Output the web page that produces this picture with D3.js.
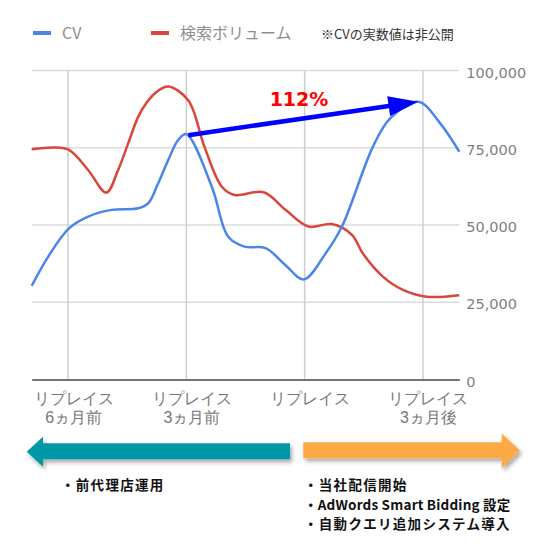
<!DOCTYPE html>
<html>
<head>
<meta charset="utf-8">
<script src="https://cdn.jsdelivr.net/npm/d3@7/dist/d3.min.js"></script>
<style>
  body { margin: 0; background: #fff; }
</style>
</head>
<body>
<svg id="svg"></svg>
<script>
// weeks relative to the replace (0)
const cvWeeks = [-30, -28.2, -25.9, -23.8, -21.25, -18.3, -17.2, -16.1, -15, -13.9, -13, -10.2, -8.4, -6.6, -4.3, -2.1, -0.1, 2.3, 4.1, 7.5, 9.4, 12.5, 14.9, 17];
const cvValues = [30300, 39700, 48900, 52700, 54900, 55400, 57000, 63500, 71000, 77500, 79400, 62400, 46200, 43000, 42500, 37000, 32400, 40800, 49500, 75300, 84500, 89900, 82900, 73700];
const volumeWeeks = [-30, -27.5, -25.9, -23.8, -21.8, -20.5, -19.4, -18.3, -17.4, -16.3, -15, -12.8, -11, -9.1, -7.7, -4.5, -2.1, 0.4, 3, 5.2, 6.4, 8.6, 10.8, 13.4, 17];
const volumeValues = [74500, 75100, 74300, 67800, 60500, 67800, 76400, 85000, 89500, 93000, 94800, 90400, 75200, 62400, 59700, 60600, 54900, 49500, 50300, 46800, 40800, 33300, 29000, 26800, 27300];

const xTicks = [-26, -13, 0, 13];
const xTickLabels = [["リプレイス", "6ヵ月前"], ["リプレイス", "3ヵ月前"], ["リプレイス", ""], ["リプレイス", "3ヵ月後"]];
const yTicks = [0, 25000, 50000, 75000, 100000];
const legendLabels = ["CV", "検索ボリューム"];
const noteText = "※CVの実数値は非公開";
const growthLabel = "112%";
const arrowFromWeek = -13;
const beforeNotes = ["・前代理店運用"];
const afterNotes = ["・当社配信開始", "・AdWords Smart Bidding 設定", "・自動クエリ追加システム導入"];

const width = 552;
const height = 560;
const jp = "'Noto Sans CJK JP', 'Noto Sans', sans-serif";
const blue = "#4a86e8";
const red = "#d8463c";

const svg = d3.select("#svg")
  .attr("width", width)
  .attr("height", height)
  .attr("viewBox", [0, 0, width, height])
  .attr("font-family", jp);

const x = d3.scaleLinear([-30, 17], [31.7, 459.3]);
const y = d3.scaleLinear([0, 100000], [379.5, 70.5]);

// gridlines
svg.append("g")
  .selectAll("line")
  .data(yTicks.filter(d => d > 0))
  .join("line")
  .attr("x1", x.range()[0]).attr("x2", x.range()[1])
  .attr("y1", d => y(d)).attr("y2", d => y(d))
  .attr("stroke", "#dcdcdc")
  .attr("stroke-width", 1.5);

svg.append("g")
  .selectAll("line")
  .data(xTicks)
  .join("line")
  .attr("x1", d => x(d)).attr("x2", d => x(d))
  .attr("y1", y(100000)).attr("y2", y(0))
  .attr("stroke", "#cfcfcf")
  .attr("stroke-width", 1.5);

// y axis on the right
svg.append("g")
  .attr("transform", "translate(" + (x.range()[1] + 7) + ",0)")
  .call(d3.axisRight(y).tickValues(yTicks).tickSize(0).tickFormat(d3.format(",")))
  .call(g => g.select(".domain").remove())
  .selectAll("text")
  .attr("x", 0)
  .attr("dy", "0.45em")
  .attr("fill", "#808080")
  .attr("font-family", "'DejaVu Sans', Verdana, sans-serif")
  .attr("font-size", 14.5);

// x axis
const xAxis = svg.append("g")
  .attr("transform", "translate(0," + y(0) + ")")
  .call(d3.axisBottom(x).tickValues(xTicks).tickSize(0).tickFormat(""));
xAxis.select(".domain").attr("stroke", "#444").attr("stroke-width", 1.5);
xAxis.selectAll(".tick text").remove();
xAxis.selectAll(".tick")
  .append("text")
  .attr("fill", "#777")
  .attr("font-size", 16)
  .attr("text-anchor", "middle")
  .selectAll("tspan")
  .data((d, i) => xTickLabels[i])
  .join("tspan")
  .attr("x", 5)
  .attr("y", (d, i) => 24 + i * 19.5)
  .text(d => d);

// lines
const line = d3.line()
  .x(d => x(d[0]))
  .y(d => y(d[1]))
  .curve(d3.curveCatmullRom.alpha(0.5));

const cvData = cvWeeks.map((w, i) => [w, cvValues[i]]);
const volData = volumeWeeks.map((w, i) => [w, volumeValues[i]]);

svg.append("path")
  .datum(volData)
  .attr("fill", "none")
  .attr("stroke", red)
  .attr("stroke-width", 2.5)
  .attr("d", line);

svg.append("path")
  .datum(cvData)
  .attr("fill", "none")
  .attr("stroke", blue)
  .attr("stroke-width", 2.5)
  .attr("d", line);

// growth arrow from CV at 3 months before to CV peak
const start = cvData.find(d => d[0] === arrowFromWeek);
const peak = cvData.reduce((a, b) => (b[1] > a[1] ? b : a));
const x0 = x(start[0]) + 2, y0 = y(start[1]) + 1;
const x1 = x(peak[0]), y1 = y(peak[1]);
const ang = Math.atan2(y1 - y0, x1 - x0);
const headLen = 30, headHalf = 10;
const bx = x1 - headLen * Math.cos(ang), by = y1 - headLen * Math.sin(ang);

svg.append("line")
  .attr("x1", x0).attr("y1", y0)
  .attr("x2", bx + 2 * Math.cos(ang)).attr("y2", by + 2 * Math.sin(ang))
  .attr("stroke", "#0000ff")
  .attr("stroke-width", 4.5);

svg.append("path")
  .attr("d", d3.line()([
    [x1, y1],
    [bx - headHalf * Math.sin(ang), by + headHalf * Math.cos(ang)],
    [bx + headHalf * Math.sin(ang), by - headHalf * Math.cos(ang)]
  ]) + "Z")
  .attr("fill", "#0000ff");

svg.append("text")
  .attr("x", 299)
  .attr("y", 105.5)
  .attr("text-anchor", "middle")
  .attr("fill", "#ff0000")
  .attr("font-family", "'DejaVu Sans', Verdana, sans-serif")
  .attr("font-weight", "bold")
  .attr("font-size", 19)
  .text(growthLabel);

// legend
const legend = svg.append("g").attr("transform", "translate(33,33)");
[[0, blue], [118, red]].forEach(([dx, c], i) => {
  legend.append("rect")
    .attr("x", dx).attr("y", -2)
    .attr("width", 18).attr("height", 4)
    .attr("fill", c);
  legend.append("text")
    .attr("x", dx + 29).attr("y", 6)
    .attr("fill", "#8f8f8f")
    .attr("font-size", 16)
    .text(legendLabels[i]);
});
svg.append("text")
  .attr("x", 321).attr("y", 38.5)
  .attr("fill", "#333")
  .attr("font-size", 13)
  .text(noteText);

// phase arrows
const defs = svg.append("defs");
defs.append("filter")
  .attr("id", "shadow")
  .attr("x", "-10%").attr("y", "-50%")
  .attr("width", "120%").attr("height", "200%")
  .append("feDropShadow")
  .attr("dx", 2).attr("dy", 3)
  .attr("stdDeviation", 2)
  .attr("flood-color", "#000")
  .attr("flood-opacity", 0.35);

svg.append("path")
  .attr("d", "M26.7,451.7 L43,436.7 L43,443.3 L290,443.3 L290,459.3 L43,459.3 L43,466.7 Z")
  .attr("fill", "#0097a7")
  .attr("filter", "url(#shadow)");

svg.append("path")
  .attr("d", "M303.3,442.3 L501.7,442.3 L501.7,433.3 L520,450.7 L501.7,468.3 L501.7,458.3 L303.3,458.3 Z")
  .attr("fill", "#fbaa45")
  .attr("filter", "url(#shadow)");

function noteBlock(lines, left) {
  svg.append("text")
    .attr("fill", "#111")
    .attr("font-weight", "bold")
    .attr("font-size", 13.5)
    .selectAll("tspan")
    .data(lines)
    .join("tspan")
    .attr("x", left)
    .attr("y", (d, i) => 490 + i * 19.7)
    .attr("letter-spacing", d => (/[A-Za-z]/.test(d) ? 0.2 : 1.3))
    .text(d => d);
}
noteBlock(beforeNotes, 61);
noteBlock(afterNotes, 304);
</script>
</body>
</html>
